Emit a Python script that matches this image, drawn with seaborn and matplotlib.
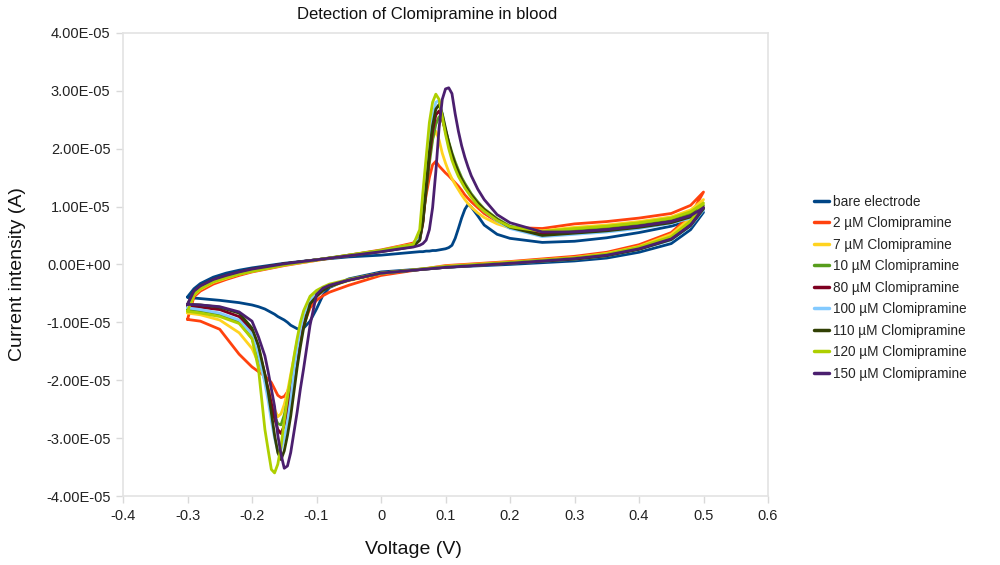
import pandas as pd
import matplotlib
matplotlib.use("Agg")
import matplotlib.pyplot as plt
from matplotlib.ticker import FuncFormatter, MultipleLocator
import seaborn as sns

# scan voltages (V): forward sweep -0.3 -> 0.5, reverse sweep 0.5 -> -0.3
v_fwd = [-0.30, -0.29, -0.28, -0.26, -0.24, -0.22, -0.20, -0.15, -0.10, -0.05, 0.00, 0.03, 0.05,
         0.06, 0.065, 0.07, 0.075, 0.08, 0.085, 0.09, 0.095, 0.10, 0.105, 0.11, 0.115, 0.12, 0.125,
         0.13, 0.135, 0.14, 0.15, 0.16, 0.18, 0.20, 0.25, 0.30, 0.35, 0.40, 0.45, 0.48, 0.50]
v_rev = [0.50, 0.48, 0.45, 0.40, 0.35, 0.30, 0.20, 0.10, 0.00, -0.05, -0.08, -0.09, -0.10, -0.11,
         -0.12, -0.125, -0.13, -0.135, -0.14, -0.145, -0.15, -0.155, -0.16, -0.165, -0.17, -0.175,
         -0.18, -0.19, -0.20, -0.22, -0.25, -0.28, -0.30]

# currents, in units of 1e-5 A
bare_fwd = [-0.56, -0.42, -0.33, -0.22, -0.15, -0.10, -0.06, 0.02, 0.08, 0.13, 0.16, 0.19, 0.21,
            0.22, 0.22, 0.23, 0.23, 0.24, 0.24, 0.25, 0.26, 0.27, 0.29, 0.33, 0.45, 0.62, 0.80,
            0.95, 1.04, 0.99, 0.84, 0.68, 0.52, 0.45, 0.38, 0.40, 0.46, 0.55, 0.66, 0.76, 0.90]
bare_rev = [0.90, 0.60, 0.36, 0.21, 0.11, 0.06, 0.00, -0.05, -0.13, -0.25, -0.40, -0.53, -0.77, -0.98,
            -1.10, -1.12, -1.11, -1.08, -1.05, -1.00, -0.96, -0.93, -0.90, -0.86, -0.83, -0.80,
            -0.77, -0.73, -0.70, -0.66, -0.62, -0.59, -0.57]

c2_fwd = [-0.95, -0.56, -0.46, -0.34, -0.26, -0.19, -0.13, -0.02, 0.07, 0.16, 0.25, 0.32, 0.37,
          0.50, 0.85, 1.20, 1.50, 1.72, 1.78, 1.70, 1.64, 1.58, 1.53, 1.47, 1.41, 1.35, 1.28,
          1.20, 1.14, 1.08, 0.98, 0.88, 0.74, 0.64, 0.62, 0.70, 0.74, 0.80, 0.88, 1.02, 1.25]
c2_rev = [1.25, 0.85, 0.55, 0.34, 0.21, 0.14, 0.05, -0.02, -0.19, -0.36, -0.48, -0.54, -0.62, -0.75,
          -1.05, -1.30, -1.55, -1.80, -2.03, -2.20, -2.28, -2.30, -2.26, -2.15, -2.04, -1.98,
          -1.93, -1.85, -1.77, -1.55, -1.12, -0.98, -0.95]

c7_fwd = [-0.84, -0.53, -0.43, -0.31, -0.24, -0.17, -0.12, -0.01, 0.07, 0.16, 0.24, 0.31, 0.35,
          0.50, 0.90, 1.40, 1.85, 2.18, 2.30, 2.15, 1.92, 1.75, 1.60, 1.48, 1.38, 1.29, 1.20,
          1.12, 1.05, 0.99, 0.89, 0.81, 0.70, 0.63, 0.58, 0.64, 0.68, 0.74, 0.82, 0.94, 1.12]
c7_rev = [1.12, 0.80, 0.52, 0.31, 0.19, 0.12, 0.04, -0.03, -0.16, -0.28, -0.38, -0.43, -0.50, -0.60,
          -0.85, -1.08, -1.32, -1.62, -1.90, -2.20, -2.42, -2.58, -2.63, -2.50, -2.32, -2.15,
          -1.99, -1.70, -1.45, -1.18, -0.96, -0.87, -0.84]

c10_fwd = [-0.78, -0.51, -0.41, -0.29, -0.22, -0.16, -0.11, 0.00, 0.08, 0.16, 0.24, 0.30, 0.34,
           0.45, 0.75, 1.25, 1.75, 2.15, 2.42, 2.55, 2.50, 2.32, 2.12, 1.93, 1.77, 1.63, 1.50,
           1.40, 1.31, 1.22, 1.08, 0.96, 0.79, 0.66, 0.56, 0.60, 0.64, 0.70, 0.78, 0.88, 1.02]
c10_rev = [1.02, 0.72, 0.46, 0.28, 0.17, 0.11, 0.03, -0.04, -0.15, -0.27, -0.37, -0.43, -0.52, -0.64,
           -0.98, -1.20, -1.50, -1.80, -2.08, -2.35, -2.60, -2.77, -2.75, -2.62, -2.45, -2.25,
           -2.00, -1.60, -1.28, -1.00, -0.86, -0.80, -0.78]

c80_fwd = [-0.72, -0.48, -0.38, -0.27, -0.20, -0.14, -0.09, 0.01, 0.08, 0.15, 0.23, 0.28, 0.32,
           0.42, 0.72, 1.30, 1.85, 2.30, 2.58, 2.65, 2.52, 2.30, 2.08, 1.88, 1.72, 1.58, 1.46,
           1.36, 1.27, 1.19, 1.05, 0.94, 0.77, 0.64, 0.52, 0.56, 0.60, 0.66, 0.74, 0.84, 0.98]
c80_rev = [0.98, 0.68, 0.44, 0.27, 0.16, 0.10, 0.02, -0.05, -0.15, -0.27, -0.37, -0.44, -0.55, -0.68,
           -1.05, -1.28, -1.58, -1.90, -2.20, -2.50, -2.78, -2.92, -2.85, -2.66, -2.40, -2.15,
           -1.90, -1.45, -1.15, -0.90, -0.78, -0.74, -0.72]

c100_fwd = [-0.75, -0.50, -0.40, -0.28, -0.21, -0.15, -0.10, 0.00, 0.08, 0.15, 0.23, 0.28, 0.32,
            0.45, 0.85, 1.50, 2.10, 2.55, 2.80, 2.83, 2.60, 2.30, 2.05, 1.85, 1.68, 1.55, 1.44,
            1.34, 1.25, 1.17, 1.03, 0.92, 0.75, 0.62, 0.48, 0.52, 0.56, 0.62, 0.71, 0.80, 0.94]
c100_rev = [0.94, 0.66, 0.42, 0.26, 0.15, 0.09, 0.02, -0.05, -0.15, -0.27, -0.37, -0.43, -0.52, -0.62,
            -0.87, -1.12, -1.45, -1.85, -2.35, -2.72, -3.00, -3.20, -3.22, -3.00, -2.70, -2.35,
            -2.05, -1.55, -1.20, -0.96, -0.84, -0.78, -0.75]

c110_fwd = [-0.69, -0.46, -0.37, -0.26, -0.19, -0.13, -0.08, 0.01, 0.08, 0.15, 0.22, 0.27, 0.31,
            0.42, 0.75, 1.35, 1.95, 2.40, 2.68, 2.76, 2.60, 2.35, 2.10, 1.90, 1.72, 1.58, 1.46,
            1.36, 1.27, 1.19, 1.05, 0.94, 0.77, 0.64, 0.50, 0.54, 0.58, 0.64, 0.72, 0.82, 0.96]
c110_rev = [0.96, 0.67, 0.43, 0.26, 0.15, 0.09, 0.02, -0.05, -0.15, -0.27, -0.38, -0.45, -0.55, -0.68,
            -1.10, -1.42, -1.78, -2.20, -2.62, -2.95, -3.22, -3.37, -3.25, -2.95, -2.56, -2.20,
            -1.90, -1.40, -1.10, -0.84, -0.74, -0.70, -0.69]

c120_fwd = [-0.81, -0.52, -0.42, -0.30, -0.23, -0.17, -0.12, -0.01, 0.08, 0.16, 0.24, 0.30, 0.34,
            0.60, 1.25, 1.85, 2.45, 2.80, 2.94, 2.85, 2.55, 2.25, 2.00, 1.80, 1.65, 1.52, 1.42,
            1.32, 1.24, 1.16, 1.02, 0.92, 0.76, 0.65, 0.57, 0.62, 0.66, 0.72, 0.80, 0.91, 1.06]
c120_rev = [1.06, 0.75, 0.48, 0.30, 0.18, 0.11, 0.03, -0.04, -0.15, -0.26, -0.34, -0.39, -0.45, -0.55,
            -0.80, -1.00, -1.28, -1.60, -1.95, -2.30, -2.70, -3.14, -3.45, -3.60, -3.54, -3.20,
            -2.85, -1.80, -1.28, -1.02, -0.90, -0.84, -0.81]

c150_fwd = [-0.69, -0.46, -0.37, -0.26, -0.19, -0.13, -0.08, 0.01, 0.08, 0.15, 0.22, 0.27, 0.30,
            0.33, 0.36, 0.42, 0.60, 0.98, 1.60, 2.35, 2.85, 3.03, 3.05, 2.95, 2.60, 2.30, 2.05,
            1.85, 1.68, 1.53, 1.30, 1.12, 0.86, 0.72, 0.56, 0.56, 0.60, 0.66, 0.74, 0.84, 0.98]
c150_rev = [0.98, 0.68, 0.44, 0.27, 0.16, 0.10, 0.02, -0.05, -0.15, -0.27, -0.36, -0.41, -0.52, -1.05,
            -1.80, -2.15, -2.55, -2.90, -3.25, -3.48, -3.52, -3.28, -2.95, -2.45, -2.15, -1.85,
            -1.58, -1.25, -0.98, -0.82, -0.73, -0.70, -0.69]

labels = ["bare electrode", "2 µM Clomipramine", "7 µM Clomipramine", "10 µM Clomipramine",
          "80 µM Clomipramine", "100 µM Clomipramine", "110 µM Clomipramine",
          "120 µM Clomipramine", "150 µM Clomipramine"]
colors = ["#004586", "#ff420e", "#ffd320", "#579d1c", "#7e0021",
          "#83caff", "#314004", "#aecf00", "#4b1f6f"]
fwd_list = [bare_fwd, c2_fwd, c7_fwd, c10_fwd, c80_fwd, c100_fwd, c110_fwd, c120_fwd, c150_fwd]
rev_list = [bare_rev, c2_rev, c7_rev, c10_rev, c80_rev, c100_rev, c110_rev, c120_rev, c150_rev]

# long table, one closed loop per series
rows = []
for lab, fw, rv in zip(labels, fwd_list, rev_list):
    assert len(fw) == len(v_fwd) and len(rv) == len(v_rev), lab
    for v, i in zip(v_fwd + v_rev, fw + rv):
        rows.append({"voltage": v, "current": i * 1e-5, "series": lab})
df = pd.DataFrame(rows)

sns.set_theme(style="white")
plt.rcParams["font.family"] = ["Liberation Sans", "DejaVu Sans"]

fig = plt.figure(figsize=(10, 5.65), dpi=100)
ax = fig.add_axes([0.123, 0.122, 0.645, 0.820])

sns.lineplot(data=df, x="voltage", y="current", hue="series", hue_order=labels,
             palette=colors, sort=False, estimator=None, linewidth=2.0, ax=ax)

ax.set_xlim(-0.4, 0.6)
ax.set_ylim(-4e-5, 4e-5)
ax.xaxis.set_major_locator(MultipleLocator(0.1))
ax.yaxis.set_major_locator(MultipleLocator(1e-5))
ax.xaxis.set_major_formatter(FuncFormatter(lambda v, p: f"{round(v, 2) + 0.0:g}"))
ax.yaxis.set_major_formatter(FuncFormatter(lambda v, p: f"{v:.2E}"))

for s in ax.spines.values():
    s.set_color("#e3e3e3")
    s.set_linewidth(1.2)
ax.tick_params(axis="both", which="major", direction="out", length=5, width=1,
               color="#d9d9d9", labelsize=10.5, labelcolor="#222222", pad=4,
               bottom=True, left=True)

ax.set_xlabel("Voltage (V)", fontsize=14, color="#111111")
ax.set_ylabel("Current intensity (A)", fontsize=14, color="#111111")
ax.xaxis.set_label_coords(0.45, -0.098)
ax.yaxis.set_label_coords(-0.15, 0.479)

ax.text(0.471, 1.04, "Detection of Clomipramine in blood", transform=ax.transAxes,
        ha="center", va="center", fontsize=12, color="#111111")

handles, labs = ax.get_legend_handles_labels()
for h in handles:
    h.set_linewidth(2.5)
ax.legend(handles, labs, loc="center left", bbox_to_anchor=(1.053, 0.45), frameon=False,
          fontsize=9.8, handlelength=1.1, handletextpad=0.3, labelspacing=0.55)

fig.savefig("out.png", dpi=100)
